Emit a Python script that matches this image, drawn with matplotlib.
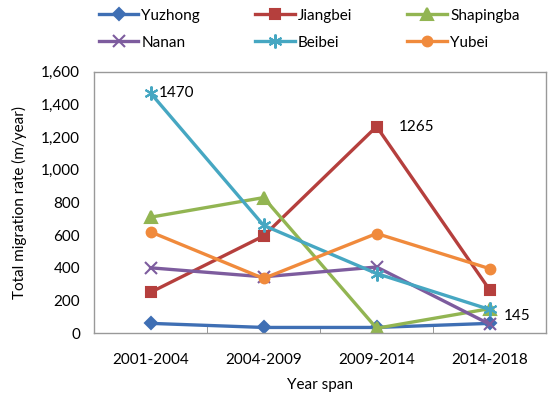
import matplotlib
matplotlib.use("Agg")
import matplotlib.pyplot as plt
from matplotlib.ticker import FuncFormatter

plt.rcParams['font.family'] = ['Lato', 'DejaVu Sans']

spans = ["2001-2004", "2004-2009", "2009-2014", "2014-2018"]
yuzhong = [60, 35, 35, 60]
jiangbei = [250, 595, 1265, 265]
shapingba = [710, 830, 30, 150]
nanan = [400, 345, 405, 55]
beibei = [1470, 660, 365, 145]
yubei = [620, 335, 610, 395]

series = [
    ("Yuzhong", yuzhong, "#3F6FB4", "D", 6),
    ("Jiangbei", jiangbei, "#B53F3D", "s", 7),
    ("Shapingba", shapingba, "#92B552", "^", 8),
    ("Nanan", nanan, "#7D5C9E", "x", 9),
    ("Beibei", beibei, "#46A7C2", (6, 2, 0), 10),
    ("Yubei", yubei, "#F08A3C", "o", 7),
]

fig = plt.figure(figsize=(5.5, 3.99), dpi=100)
ax = fig.add_axes([0.171, 0.165, 0.822, 0.655])
x = list(range(len(spans)))
handles = []
for name, vals, col, mk, ms in series:
    h, = ax.plot(x, vals, color=col, lw=2.4, marker=mk, markersize=ms,
                 markeredgewidth=1.5, markeredgecolor=col, markerfacecolor=col, label=name)
    handles.append(h)

ax.set_xlim(-0.5, 3.5)
ax.set_ylim(0, 1600)
ax.set_yticks(range(0, 1601, 200))
ax.yaxis.set_major_formatter(FuncFormatter(lambda v, p: f"{int(v):,}"))
ax.set_xticks(x)
ax.set_xticklabels(spans)
ax.set_xticks([0.5, 1.5, 2.5], minor=True)
ax.tick_params(axis='x', which='major', length=0, labelsize=11, pad=14)
ax.tick_params(axis='x', which='minor', length=5, color='#888888', direction='in')
ax.tick_params(axis='y', length=0, labelsize=11, pad=10)
for s in ax.spines.values():
    s.set_color('#999999')
    s.set_linewidth(1)

ax.set_xlabel("Year span", fontsize=11, labelpad=8)
ax.set_ylabel("Total migration rate (m/year)", fontsize=11, labelpad=10)

ax.annotate("1470", (0, beibei[0]), xytext=(6, 0), textcoords='offset points',
            va='center', ha='left', fontsize=11)
ax.annotate("1265", (2, jiangbei[2]), xytext=(16, 0), textcoords='offset points',
            va='center', ha='left', fontsize=11)
ax.annotate("145", (3, beibei[3]), xytext=(10, -5), textcoords='offset points',
            va='center', ha='left', fontsize=11)

order = [0, 3, 1, 4, 2, 5]
fig.legend([handles[i] for i in order], [series[i][0] for i in order],
           loc='upper left', bbox_to_anchor=(0.16, 1.005), ncol=3, frameon=False,
           fontsize=11, handlelength=2.6, columnspacing=3.6, handletextpad=0.2,
           labelspacing=0.85, borderaxespad=0.3)

fig.savefig("out.png", dpi=100)
